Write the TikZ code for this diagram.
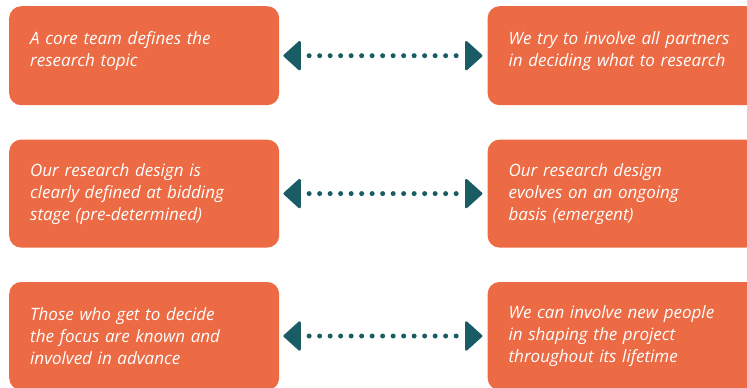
\documentclass[tikz,border=0pt]{standalone}
\usepackage{fontspec}
\setmainfont{Open Sans}
\usepackage{tikz}
\usetikzlibrary{positioning}
\usetikzlibrary{arrows.meta}
\definecolor{boxorange}{HTML}{EC6B45}
\definecolor{arrowteal}{HTML}{195C63}

\begin{document}
\begin{tikzpicture}[x=1pt, y=-1pt, node distance={34pt and 208pt},
    box/.style = {fill=boxorange, rounded corners=12pt, minimum width=270pt, text width=228pt, inner xsep=21pt, align=left, text=white, font=\fontsize{17}{22}\selectfont\itshape},
    link/.style = {arrowteal, line width=5pt, line cap=round, dash pattern=on 0pt off 10.5pt, dash phase=1.5pt, shorten <=4pt, shorten >=5pt, {Triangle[length=18pt, width=32pt, round, line width=2.5pt]}-{Triangle[length=18pt, width=32pt, round, line width=2.5pt]}}]
    \useasboundingbox (0,0) rectangle (747,388);
    \node[box, minimum height=99pt, text depth=36pt, anchor=north west] (l1) at (9,6) {A core team defines the\\research topic};
    \node[box, minimum height=99pt, text depth=36pt] (r1) [right=of l1] {We try to involve all partners\\in deciding what to research};
    \node[box, minimum height=108pt] (l2) [below=of l1] {Our research design is\\clearly defined at bidding\\stage (pre-determined)};
    \node[box, minimum height=108pt] (r2) [right=of l2] {Our research design\\evolves on an ongoing\\basis (emergent)};
    \node[box, minimum height=108pt] (l3) [below=of l2] {Those who get to decide\\the focus are known and\\involved in advance};
    \node[box, minimum height=108pt] (r3) [right=of l3] {We can involve new people\\in shaping the project\\throughout its lifetime};
    \draw[link] (l1) -- (r1);
    \draw[link] (l2) -- (r2);
    \draw[link] (l3) -- (r3);
\end{tikzpicture}
\end{document}
